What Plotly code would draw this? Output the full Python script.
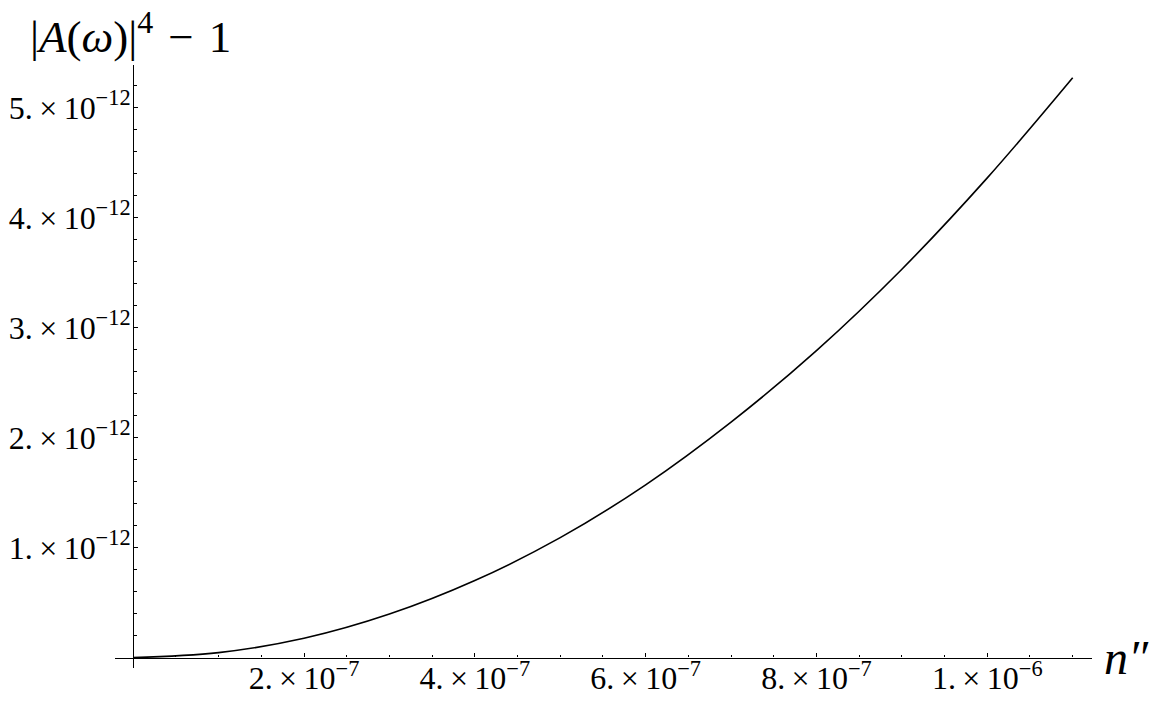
import plotly.graph_objects as go

# n'' values (curve samples) and |A(w)|^4 - 1
n2 = [0, 1e-7, 2e-7, 3e-7, 4e-7, 5e-7, 6e-7, 7e-7, 8e-7, 9e-7, 1.0e-6, 1.1e-6]
amp = [0, 0.045e-12, 0.175e-12, 0.395e-12, 0.70e-12, 1.09e-12, 1.57e-12,
       2.14e-12, 2.79e-12, 3.53e-12, 4.36e-12, 5.27e-12]

xtick_vals = [2e-7, 4e-7, 6e-7, 8e-7, 1e-6]
xtick_text = ["2.\u2009×\u200910<sup>−7</sup>", "4.\u2009×\u200910<sup>−7</sup>",
              "6.\u2009×\u200910<sup>−7</sup>", "8.\u2009×\u200910<sup>−7</sup>",
              "1.\u2009×\u200910<sup>−6</sup>"]
ytick_vals = [1e-12, 2e-12, 3e-12, 4e-12, 5e-12]
ytick_text = ["1.\u2009×\u200910<sup>−12</sup>", "2.\u2009×\u200910<sup>−12</sup>",
              "3.\u2009×\u200910<sup>−12</sup>", "4.\u2009×\u200910<sup>−12</sup>",
              "5.\u2009×\u200910<sup>−12</sup>"]

xr = [-2.13e-8, 1.1226e-6]
yr = [-0.095e-12, 5.386e-12]

FONT = "Liberation Serif"

fig = go.Figure()
fig.add_trace(go.Scatter(x=n2, y=amp, mode="lines", line_shape="spline",
                         line=dict(color="black", width=1.6), showlegend=False))

# page body adds 8px, so margins are shifted to keep the plot where it belongs
fig.update_layout(
    width=1157, height=701,
    margin=dict(l=107, r=73, t=57, b=41),
    paper_bgcolor="white", plot_bgcolor="white",
    font=dict(family=FONT, size=32, color="black"),
    xaxis=dict(range=xr, anchor="free", position=(0 - yr[0]) / (yr[1] - yr[0]),
               showgrid=False, zeroline=False, showline=True, linecolor="black",
               linewidth=1.3, ticks="inside", ticklen=4, tickwidth=1.2,
               tickcolor="black", tickmode="array", tickvals=xtick_vals,
               ticktext=xtick_text, automargin=False, ticklabelstandoff=-8,
               minor=dict(tickmode="linear", tick0=0, dtick=5e-8, ticks="inside",
                          ticklen=2.5, tickwidth=1, tickcolor="black")),
    yaxis=dict(range=yr, anchor="free", position=(0 - xr[0]) / (xr[1] - xr[0]),
               showgrid=False, zeroline=False, showline=True, linecolor="black",
               linewidth=1.3, ticks="inside", ticklen=4, tickwidth=1.2,
               tickcolor="black", tickmode="array", tickvals=ytick_vals,
               ticktext=ytick_text, automargin=False, ticklabelstandoff=-4,
               minor=dict(tickmode="linear", tick0=0, dtick=2e-13, ticks="inside",
                          ticklen=2.5, tickwidth=1, tickcolor="black")),
)

fig.add_annotation(
    text="|<i>A</i>(<i>ω</i>)|<sup><span style='font-size:32px'>4</span></sup>\u2004−\u20041",
    xref="paper", yref="paper", x=-0.089, y=1.0, xanchor="left", yanchor="bottom",
    yshift=1, showarrow=False, font=dict(family=FONT, size=45, color="black"))
fig.add_annotation(text="<i>n″</i>", xref="paper", yref="paper",
                   x=1.01, y=(0 - yr[0]) / (yr[1] - yr[0]), xanchor="left", yanchor="middle",
                   showarrow=False, font=dict(family=FONT, size=48, color="black"))

fig.write_html("out.html")
